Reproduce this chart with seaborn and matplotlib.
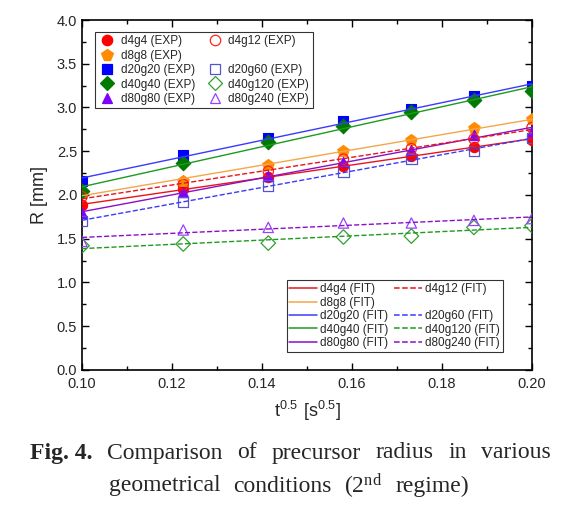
import numpy as np
import pandas as pd
import matplotlib.pyplot as plt
from matplotlib.lines import Line2D
from matplotlib.ticker import MultipleLocator
import seaborn as sns

# %% data
t_sqrt = [0.1, 0.1225, 0.1414, 0.1581, 0.1732, 0.1871, 0.2]

d4g4 = [1.88, 2.07, 2.21, 2.33, 2.45, 2.55, 2.63]
d8g8 = [2.02, 2.16, 2.34, 2.50, 2.63, 2.76, 2.87]
d20g20 = [2.16, 2.46, 2.655, 2.84, 2.98, 3.13, 3.25]
d40g40 = [2.05, 2.36, 2.60, 2.79, 2.95, 3.09, 3.19]
d80g80 = [1.79, 2.03, 2.22, 2.38, 2.51, 2.69, 2.73]
d4g12 = [1.98, 2.12, 2.27, 2.41, 2.53, 2.64, 2.77]
d20g60 = [1.70, 1.92, 2.11, 2.27, 2.41, 2.50, 2.65]
d40g120 = [1.42, 1.44, 1.45, 1.52, 1.53, 1.63, 1.65]
d80g240 = [1.47, 1.60, 1.63, 1.68, 1.68, 1.71, 1.73]

names = ["d4g4", "d8g8", "d20g20", "d40g40", "d80g80",
         "d4g12", "d20g60", "d40g120", "d80g240"]
values = [d4g4, d8g8, d20g20, d40g40, d80g80, d4g12, d20g60, d40g120, d80g240]

df = pd.DataFrame({"t": t_sqrt * len(names),
                   "R": sum(values, []),
                   "case": np.repeat(names, len(t_sqrt))})

# marker, marker colour, filled?, fit line colour, fit linestyle
style = {
    "d4g4":    ("o", "#ff0000", True,  "#e8141c", "-"),
    "d8g8":    ("p", "#ff8c00", True,  "#f5a64a", "-"),
    "d20g20":  ("s", "#0000ff", True,  "#3a3aff", "-"),
    "d40g40":  ("D", "#007a00", True,  "#1e9a1e", "-"),
    "d80g80":  ("^", "#8000ff", True,  "#8a10c8", "-"),
    "d4g12":   ("o", "#ff2020", False, "#e8141c", "--"),
    "d20g60":  ("s", "#5555d0", False, "#3a3aff", "--"),
    "d40g120": ("D", "#33a033", False, "#1e9a1e", "--"),
    "d80g240": ("^", "#9a40ff", False, "#8a10c8", "--"),
}

# %% plot
sns.set_style("ticks")
plt.rcParams["font.family"] = ["Liberation Sans", "DejaVu Sans"]

fig = plt.figure(figsize=(5.72, 5.13), dpi=100)
ax = fig.add_axes([0.1434, 0.2788, 0.7866, 0.6822])

for name in names:
    sub = df[df["case"] == name]
    m, c, filled, lc, ls = style[name]
    size = 75 if m == "p" else 55
    if filled:
        sns.scatterplot(data=sub, x="t", y="R", marker=m, color=c,
                        edgecolor=c, s=size, linewidth=0.8, ax=ax, zorder=3)
    else:
        sns.scatterplot(data=sub, x="t", y="R", marker=m, facecolor="none",
                        edgecolor=c, s=size, linewidth=0.9, ax=ax, zorder=3)
    sns.regplot(data=sub, x="t", y="R", scatter=False, ci=None, ax=ax,
                line_kws=dict(color=lc, ls=ls, lw=1.0, zorder=4))

ax.set_xlim(0.1, 0.2)
ax.set_ylim(0, 4.0)
ax.xaxis.set_major_locator(MultipleLocator(0.02))
ax.xaxis.set_minor_locator(MultipleLocator(0.01))
ax.yaxis.set_major_locator(MultipleLocator(0.5))
ax.yaxis.set_minor_locator(MultipleLocator(0.25))
ax.xaxis.set_major_formatter(plt.FormatStrFormatter("%.2f"))
ax.yaxis.set_major_formatter(plt.FormatStrFormatter("%.1f"))
ax.tick_params(which="both", direction="in", top=True, right=True,
               labelsize=10.5, width=1.0, color="black")
ax.tick_params(which="major", length=5)
ax.tick_params(which="minor", length=3)
ax.tick_params(axis="x", pad=5)
for sp in ax.spines.values():
    sp.set_visible(True)
    sp.set_linewidth(1.2)
    sp.set_color("black")

ax.set_xlabel(r"$\mathregular{t^{0.5}\ [s^{0.5}]}$", fontsize=13, labelpad=6)
ax.set_ylabel("R [mm]", fontsize=13, labelpad=6)

# legends
def mk(name):
    m, c, filled, lc, ls = style[name]
    return Line2D([], [], marker=m, ls="none", ms=7.5 if m != "p" else 8.5,
                  mfc=c if filled else "none", mec=c, mew=0.9,
                  label=f"{name} (EXP)")

blank = Line2D([], [], ls="none", label=" ")
exp_handles = [mk(n) for n in names[:5]] + [mk("d4g12"), blank] + \
              [mk(n) for n in names[6:]]
leg1 = ax.legend(handles=exp_handles, ncol=2, loc="upper left",
                 bbox_to_anchor=(0.029, 0.966), borderaxespad=0, fontsize=8.5,
                 frameon=True, fancybox=False, edgecolor="black",
                 handletextpad=0.4, columnspacing=0.9, labelspacing=0.2,
                 borderpad=0.3, handlelength=1.5)
leg1.get_frame().set_linewidth(0.8)
ax.add_artist(leg1)

def ln(name):
    m, c, filled, lc, ls = style[name]
    return Line2D([], [], color=lc, ls=ls, lw=1.1, label=f"{name} (FIT)")

fit_handles = [ln(n) for n in names[:5]] + [ln("d4g12"), blank] + \
              [ln(n) for n in names[6:]]
leg2 = ax.legend(handles=fit_handles, ncol=2, loc="lower right",
                 bbox_to_anchor=(0.9356, 0.0514), borderaxespad=0, fontsize=8.5,
                 frameon=True, fancybox=False, edgecolor="black",
                 handletextpad=0.3, columnspacing=0.5, labelspacing=0.12,
                 borderpad=0.25, handlelength=2.3)
leg2.get_frame().set_linewidth(0.8)

# caption, justified between given pixel bounds
serif = ["Liberation Serif", "DejaVu Serif"]
renderer = fig.canvas.get_renderer()

def justify(words, x0, x1, ypix, bold_first=False):
    texts = []
    for i, w in enumerate(words):
        t = fig.text(0, 1 - ypix / 513, w, family=serif, fontsize=17,
                     weight="bold" if (bold_first and i == 0) else "normal",
                     ha="left", va="center")
        texts.append(t)
    widths = [t.get_window_extent(renderer).width for t in texts]
    gap = (x1 - x0 - sum(widths)) / (len(words) - 1)
    x = x0
    for t, w in zip(texts, widths):
        t.set_x(x / 572)
        x += w + gap

justify(["Fig. 4.", "Comparison", "of", "precursor", "radius", "in", "various"],
        30, 551, 453, bold_first=True)
justify(["geometrical", "conditions", r"(2$\mathregular{^{nd}}$", "regime)"],
        109, 469, 486)

fig.savefig("out.png", dpi=100)
